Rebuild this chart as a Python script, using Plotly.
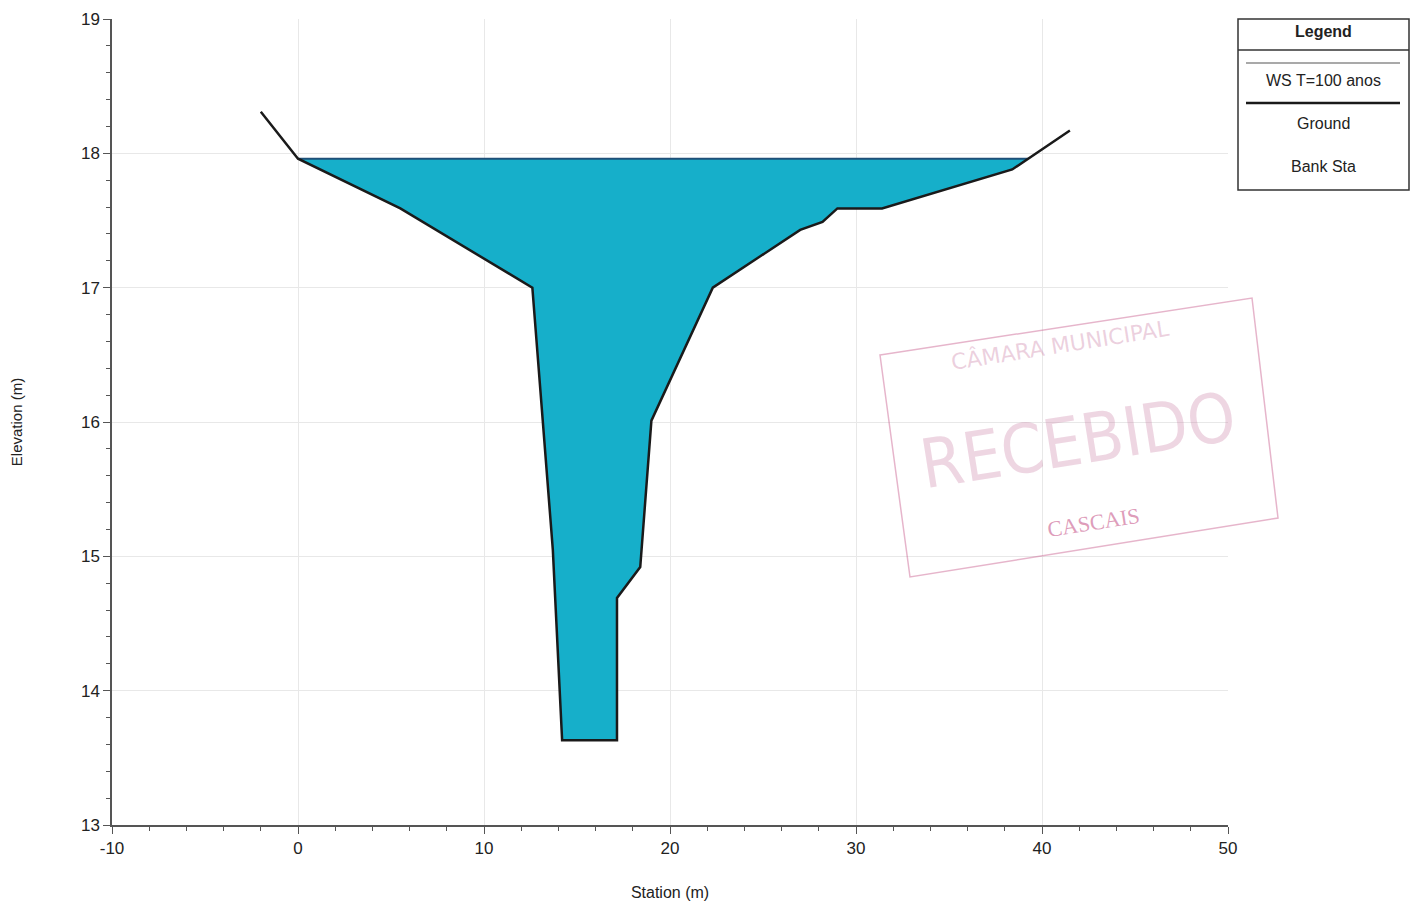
import numpy as np
import plotly.graph_objects as go

# Ground profile (Station m, Elevation m)
ground_station = [-2.0, 0.0, 5.5, 12.6, 13.7, 14.2, 17.15, 17.15, 18.4, 19.0, 22.3, 27.0, 28.2, 29.0, 31.4, 38.4, 41.5]
ground_elev = [18.31, 17.96, 17.59, 17.0, 15.05, 13.63, 13.63, 14.69, 14.92, 16.01, 17.0, 17.43, 17.49, 17.59, 17.59, 17.88, 18.17]
ws_elev = 17.96
ws_label = "WS T=100 anos"

x_ticks = [-10, 0, 10, 20, 30, 40, 50]
y_ticks = [13, 14, 15, 16, 17, 18, 19]

# page offset (body margin) compensation
OFF = 8
# plot area in page pixels
L, R, T, B = 112, 1228, 19, 825
W, H = 1421 - OFF, 909 - OFF


def px(xp):
    return (xp - L) / (R - L)


def py(yp):
    return (B - yp) / (B - T)


gs = np.array(ground_station)
ge = np.array(ground_elev)
left_x = np.interp(ws_elev, ge[:3][::-1], gs[:3][::-1])
right_x = np.interp(ws_elev, ge[-3:], gs[-3:])
mask = (gs > left_x) & (gs < right_x)
wx = np.concatenate([[left_x], gs[mask], [right_x], [left_x]])
wy = np.concatenate([[ws_elev], ge[mask], [ws_elev], [ws_elev]])

fig = go.Figure()
fig.add_trace(go.Scatter(x=wx, y=wy, fill="toself", fillcolor="#16afca",
                         line=dict(width=0), mode="lines", showlegend=False, hoverinfo="skip"))
fig.add_trace(go.Scatter(x=[left_x, right_x], y=[ws_elev, ws_elev], mode="lines",
                         line=dict(color="#1f4f78", width=2), name=ws_label, showlegend=False))
fig.add_trace(go.Scatter(x=ground_station, y=ground_elev, mode="lines",
                         line=dict(color="#1a1a1a", width=2.5), name="Ground", showlegend=False))

FONT = "Arial, Liberation Sans, sans-serif"
axis_common = dict(
    showline=True, linecolor="#555555", linewidth=1.5,
    ticks="outside", ticklen=7, tickwidth=1.2, tickcolor="#555555",
    showgrid=True, gridcolor="#e8e8e8", gridwidth=1,
    zeroline=False, mirror=False, automargin=False,
    tickfont=dict(family=FONT, size=17, color="#222222"),
)

fig.update_xaxes(range=[-10, 50], tickvals=x_ticks, ticktext=[str(v) for v in x_ticks],
                 minor=dict(dtick=2, ticks="outside", ticklen=4, tickcolor="#555555", showgrid=False),
                 title=dict(text="Station (m)", font=dict(family=FONT, size=16, color="#222222"), standoff=30),
                 **axis_common)
fig.update_yaxes(range=[13, 19], tickvals=y_ticks, ticktext=[str(v) for v in y_ticks],
                 minor=dict(dtick=0.2, ticks="outside", ticklen=4, tickcolor="#555555", showgrid=False),
                 title=dict(text="Elevation (m)", font=dict(family=FONT, size=15, color="#222222"), standoff=56),
                 **axis_common)

shapes = []
annotations = []
shapes.append(dict(type="rect", xref="paper", yref="paper", x0=px(1238), x1=px(1409), y0=py(190), y1=py(19),
                   line=dict(color="#333333", width=1.5), fillcolor="white"))
shapes.append(dict(type="line", xref="paper", yref="paper", x0=px(1238), x1=px(1409), y0=py(50), y1=py(50),
                   line=dict(color="#333333", width=1.5)))
shapes.append(dict(type="line", xref="paper", yref="paper", x0=px(1246), x1=px(1400), y0=py(63), y1=py(63),
                   line=dict(color="#555555", width=1.2)))
shapes.append(dict(type="line", xref="paper", yref="paper", x0=px(1246), x1=px(1400), y0=py(103), y1=py(103),
                   line=dict(color="#1a1a1a", width=2.5)))
lf = dict(family=FONT, size=16, color="#222222")
for text, yp, bold in [("Legend", 32, True), (ws_label, 81, False), ("Ground", 124, False), ("Bank Sta", 166, False)]:
    annotations.append(dict(xref="paper", yref="paper", x=px(1323), y=py(yp), text=f"<b>{text}</b>" if bold else text,
                            showarrow=False, font=lf, xanchor="center", yanchor="middle"))

# Faint stamp (scan artifact)
pts = [(880, 355), (1252, 298), (1278, 518), (910, 577)]
path = "M " + " L ".join(f"{px(a)},{py(b)}" for a, b in pts) + " Z"
shapes.append(dict(type="path", xref="paper", yref="paper", path=path,
                   line=dict(color="rgba(200,90,140,0.45)", width=1.5)))
annotations.append(dict(xref="paper", yref="paper", x=px(1060), y=py(345), text="CÂMARA MUNICIPAL",
                        xanchor="center", yanchor="middle",
                        showarrow=False, textangle=-9, font=dict(family="DejaVu Sans", size=22, color="rgba(200,120,160,0.35)")))
annotations.append(dict(xref="paper", yref="paper", x=px(1078), y=py(440), text="RECEBIDO",
                        xanchor="center", yanchor="middle",
                        showarrow=False, textangle=-9, font=dict(family="DejaVu Sans Condensed, Liberation Sans Narrow, Liberation Sans", size=68, color="rgba(200,120,160,0.3)")))
annotations.append(dict(xref="paper", yref="paper", x=px(1093), y=py(522), text="CASCAIS",
                        xanchor="center", yanchor="middle",
                        showarrow=False, textangle=-9, font=dict(family="Liberation Serif", size=22, color="rgba(200,90,140,0.6)")))

fig.update_layout(
    width=W, height=H,
    margin=dict(l=L - OFF, r=W - (R - OFF), t=T - OFF, b=H - (B - OFF)),
    paper_bgcolor="white", plot_bgcolor="white",
    shapes=shapes, annotations=annotations,
    showlegend=False,
)

fig.write_html("out.html")
